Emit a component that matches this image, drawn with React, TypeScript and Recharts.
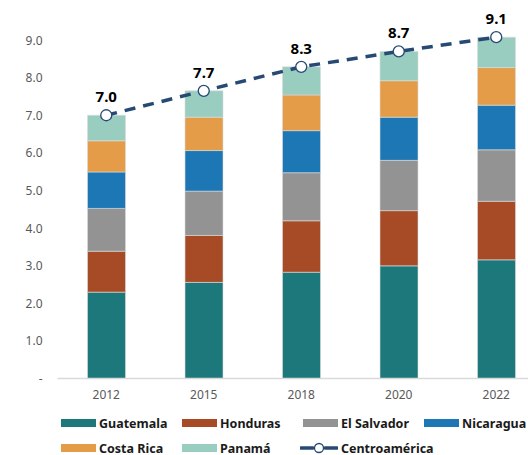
import React from 'react';
import { ComposedChart, Bar, Line, XAxis, YAxis, Legend, LabelList } from 'recharts';

// Población por país (millones), Centroamérica
const years = ['2012', '2015', '2018', '2020', '2022'];
const guatemala = [2.3, 2.56, 2.83, 3.0, 3.16];
const honduras = [1.09, 1.25, 1.37, 1.47, 1.56];
const elSalvador = [1.14, 1.18, 1.28, 1.34, 1.37];
const nicaragua = [0.97, 1.08, 1.12, 1.15, 1.19];
const costaRica = [0.83, 0.89, 0.95, 0.97, 1.0];
const panama = [0.68, 0.7, 0.75, 0.78, 0.81];
const centroamerica = [7.01, 7.66, 8.3, 8.71, 9.09];
const yTicks = [0, 1, 2, 3, 4, 5, 6, 7, 8, 9];

const series = [
  { key: 'guatemala', name: 'Guatemala', color: '#1d787c' },
  { key: 'honduras', name: 'Honduras', color: '#a64b26' },
  { key: 'elSalvador', name: 'El Salvador', color: '#939393' },
  { key: 'nicaragua', name: 'Nicaragua', color: '#1c77b4' },
  { key: 'costaRica', name: 'Costa Rica', color: '#e49c48' },
  { key: 'panama', name: 'Panamá', color: '#98cdbf' },
];
const lineColor = '#264a73';
const legendOrder = [...series.map((s) => s.key), 'centroamerica'];

const data = years.map((year, i) => ({
  year,
  guatemala: guatemala[i],
  honduras: honduras[i],
  elSalvador: elSalvador[i],
  nicaragua: nicaragua[i],
  costaRica: costaRica[i],
  panama: panama[i],
  centroamerica: centroamerica[i],
}));

const renderLegend = (props: any) => {
  const items = [...(props.payload || [])].sort(
    (a: any, b: any) => legendOrder.indexOf(a.dataKey) - legendOrder.indexOf(b.dataKey)
  );
  return (
    <div style={{ position: 'relative', width: 528, height: 44 }}>
      {items.map((entry: any, i: number) => {
        const col = i % 4;
        const row = Math.floor(i / 4);
        const isLine = entry.dataKey === 'centroamerica';
        return (
          <div
            key={entry.value}
            style={{
              position: 'absolute',
              left: isLine ? 300 : 61 + col * 121,
              top: 4 + row * 25,
              height: 18,
              display: 'flex',
              alignItems: 'center',
              fontFamily: 'Noto Sans',
              fontWeight: 700,
              fontSize: 12.5,
              color: '#1a1a1a',
              whiteSpace: 'nowrap',
            }}
          >
            {isLine ? (
              <svg width={38} height={12} style={{ marginRight: 3 }}>
                <line x1={1} y1={6} x2={13} y2={6} stroke={lineColor} strokeWidth={3.5} strokeLinecap="round" />
                <line x1={25} y1={6} x2={37} y2={6} stroke={lineColor} strokeWidth={3.5} strokeLinecap="round" />
                <circle cx={19} cy={6} r={4.5} fill="#fff" stroke={lineColor} strokeWidth={1.3} />
              </svg>
            ) : (
              <span
                style={{
                  display: 'inline-block',
                  width: 35,
                  height: 8,
                  background: entry.color,
                  marginRight: 3,
                }}
              />
            )}
            {entry.value}
          </div>
        );
      })}
    </div>
  );
};

export default function App() {
  return (
    <div
      style={{
        position: 'fixed',
        top: 0,
        left: 0,
        width: 528,
        height: 455,
        overflow: 'hidden',
        background: '#fff',
      }}
    >
      <ComposedChart
        width={545}
        height={455}
        data={data}
        margin={{ top: 3, right: 0, left: 7.5, bottom: 0 }}
        style={{ fontFamily: 'Noto Sans' }}
      >
        <XAxis
          dataKey="year"
          height={32.5}
          tickSize={0}
          tickMargin={12}
          axisLine={{ stroke: '#d9d9d9', strokeWidth: 1.5 }}
          tick={{ fill: '#595959', fontSize: 12 }}
        />
        <YAxis
          width={50}
          domain={[0, 10]}
          ticks={yTicks}
          axisLine={false}
          tickSize={0}
          tickMargin={15}
          tick={{ fill: '#595959', fontSize: 12 }}
          tickFormatter={(v: number) => (v === 0 ? '-' : v.toFixed(1))}
        />
        <Legend
          verticalAlign="bottom"
          content={renderLegend}
          wrapperStyle={{ top: 410, left: 0, bottom: 'auto', width: 528 }}
        />
        {series.map((s) => (
          <Bar
            key={s.key}
            dataKey={s.key}
            name={s.name}
            stackId="pais"
            fill={s.color}
            stroke="#dcdcdc"
            strokeWidth={0.6}
            barSize={38}
            isAnimationActive={false}
          />
        ))}
        <Line
          dataKey="centroamerica"
          name="Centroamérica"
          type="linear"
          stroke={lineColor}
          strokeWidth={3.5}
          strokeDasharray="11 8"
          dot={{ r: 5.5, fill: '#fff', stroke: lineColor, strokeWidth: 1.3, strokeDasharray: '0' }}
          activeDot={false}
          legendType="line"
          isAnimationActive={false}
        >
          <LabelList
            dataKey="centroamerica"
            position="top"
            offset={13}
            fill="#000"
            fontSize={15}
            fontWeight={700}
            formatter={(v: number) => v.toFixed(1)}
          />
        </Line>
      </ComposedChart>
    </div>
  );
}
